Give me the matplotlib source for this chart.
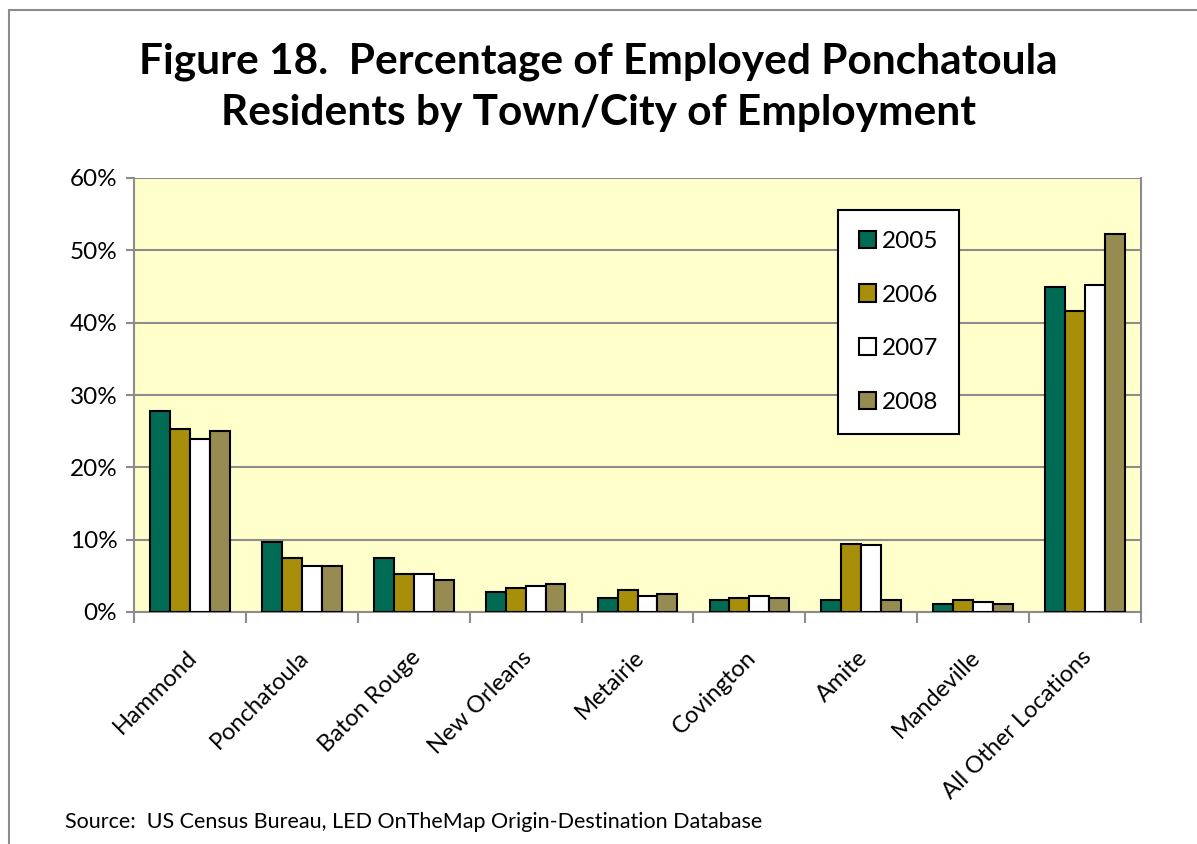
import matplotlib
matplotlib.use("Agg")
import matplotlib.pyplot as plt
import numpy as np
from matplotlib.patches import Rectangle
from matplotlib.ticker import FuncFormatter, FixedLocator

plt.rcParams['font.family'] = ['Lato', 'DejaVu Sans']

# Share of employed residents by place of work (percent)
locations = ["Hammond", "Ponchatoula", "Baton Rouge", "New Orleans", "Metairie",
             "Covington", "Amite", "Mandeville", "All Other Locations"]
years = ["2005", "2006", "2007", "2008"]
pct_2005 = [27.8, 9.7, 7.4, 2.8, 1.9, 1.7, 1.7, 1.1, 45.0]
pct_2006 = [25.3, 7.4, 5.3, 3.3, 3.1, 1.9, 9.4, 1.7, 41.6]
pct_2007 = [23.9, 6.3, 5.3, 3.6, 2.2, 2.2, 9.2, 1.4, 45.2]
pct_2008 = [25.0, 6.3, 4.4, 3.9, 2.5, 1.9, 1.7, 1.1, 52.2]

series = [pct_2005, pct_2006, pct_2007, pct_2008]
colors = ["#006B54", "#A88F0A", "#FFFFFF", "#968B50"]

fig = plt.figure(figsize=(11.97, 8.44), dpi=100)
fig.patch.set_facecolor("white")

# outer chart border (only the left and top edges show)
fig.add_artist(Rectangle((9 / 1197, -0.1), 1.2, 1 - 10 / 844 + 0.1,
                         transform=fig.transFigure, fill=False,
                         edgecolor="#8C8C8C", linewidth=1.5))

ax = fig.add_axes([134 / 1197, 1 - 612 / 844, (1141 - 134) / 1197, (612 - 178) / 844])
ax.set_facecolor("#FFFFCC")

x = np.arange(len(locations))
w = 0.178
for i, (vals, col, yr) in enumerate(zip(series, colors, years)):
    ax.bar(x + (i - 1.5) * w, vals, width=w, color=col, edgecolor="black",
           linewidth=1.5, label=yr, zorder=3)

ax.set_xlim(-0.5, len(locations) - 0.5)
ax.set_ylim(0, 60)
ax.yaxis.set_major_locator(FixedLocator(np.arange(0, 61, 10)))
ax.yaxis.set_major_formatter(FuncFormatter(lambda v, p: f"{v:.0f}%"))
ax.grid(axis="y", color="#8C8C8C", linewidth=1.5, zorder=0)

# category ticks sit on the boundaries, labels in the middle
ax.set_xticks(np.arange(len(locations) + 1) - 0.5)
ax.set_xticklabels([])
ax.tick_params(axis="x", direction="out", length=8, width=1.5, color="#8C8C8C")
ax.tick_params(axis="y", direction="out", length=6, width=1.5, color="#8C8C8C",
               labelsize=17.5, pad=6)
for s in ["left", "bottom"]:
    ax.spines[s].set_color("#8C8C8C")
    ax.spines[s].set_linewidth(1.5)
ax.spines["top"].set_visible(False)
ax.spines["right"].set_color("#8C8C8C")
ax.spines["right"].set_linewidth(1.5)

for xi, name in zip(x, locations):
    ax.annotate(name, xy=(xi, 0), xycoords=("data", "axes fraction"),
                xytext=(-3, -25), textcoords="offset points",
                rotation=45, ha="right", va="top", rotation_mode="anchor",
                fontsize=17)

leg = ax.legend(loc="upper left", bbox_to_anchor=((838 - 134) / 1007, 1 - (210 - 178) / 434),
                fontsize=17.5, frameon=True, fancybox=False, framealpha=1,
                borderpad=0.85, labelspacing=1.35, handlelength=0.7,
                handleheight=0.7, handletextpad=0.25, borderaxespad=0)
leg.get_frame().set_edgecolor("black")
leg.get_frame().set_linewidth(1.5)

fig.text(0.5, 1 - 62 / 844, "Figure 18.  Percentage of Employed Ponchatoula",
         ha="center", va="center", fontsize=30.5, fontweight="bold")
fig.text(0.5, 1 - 113 / 844, "Residents by Town/City of Employment",
         ha="center", va="center", fontsize=30.5, fontweight="bold")
fig.text(65 / 1197, 1 - 822 / 844,
         "Source:  US Census Bureau, LED OnTheMap Origin-Destination Database",
         ha="left", va="center", fontsize=15.5)

fig.savefig("out.png", dpi=100)
